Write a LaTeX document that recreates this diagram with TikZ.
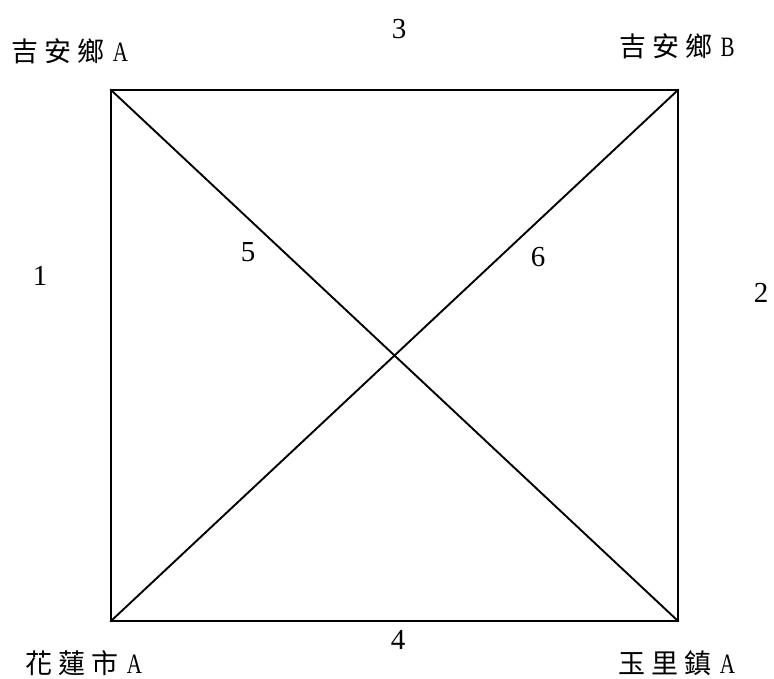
\documentclass[tikz,border=0pt]{standalone}
\usepackage{fontspec}
\setmainfont{Liberation Serif}
\newfontfamily\cjk{Noto Sans CJK TC}
\newfontfamily\latnfont[FakeStretch=0.75]{Liberation Serif}
\newcommand{\latn}[1]{{\latnfont\fontsize{28}{30}\selectfont#1}}
\begin{document}
\begin{tikzpicture}[x=1pt,y=-1pt,
  edge/.style={line width=1.9pt,line cap=rect},
  place/.style={font=\fontsize{27}{30}\selectfont\cjk, inner sep=0pt, anchor=base},
  num/.style={font=\fontsize{29}{32}\selectfont, inner sep=0pt}]
\useasboundingbox (0,0) rectangle (774,679);
\coordinate (TL) at (111,90);
\coordinate (TR) at (678,90);
\coordinate (BL) at (111,621);
\coordinate (BR) at (678,621);
\draw[edge] (TL) -- (TR) -- (BR) -- (BL) -- cycle;
\draw[edge] (TL) -- (BR);
\draw[edge] (TR) -- (BL);
\node[place] (jaA) at (70,62) {吉\hspace{6pt}安\hspace{6pt}鄉\hspace{8pt}\latn{A}};
\node[place] (jaB) at (677,57) {吉\hspace{6pt}安\hspace{6pt}鄉\hspace{8pt}\latn{B}};
\node[place] (hl) at (84,673) {花\hspace{6pt}蓮\hspace{6pt}市\hspace{8pt}\latn{A}};
\node[place] (yl) at (677,673) {玉\hspace{6pt}里\hspace{6pt}鎮\hspace{8pt}\latn{A}};
\node[num] (n3) at (399,29) {3};
\node[num] (n1) at (40,276) {1};
\node[num] (n2) at (761,293) {2};
\node[num] (n5) at (248,252) {5};
\node[num] (n6) at (538,257) {6};
\node[num] (n4) at (398,640) {4};
\end{tikzpicture}
\end{document}
